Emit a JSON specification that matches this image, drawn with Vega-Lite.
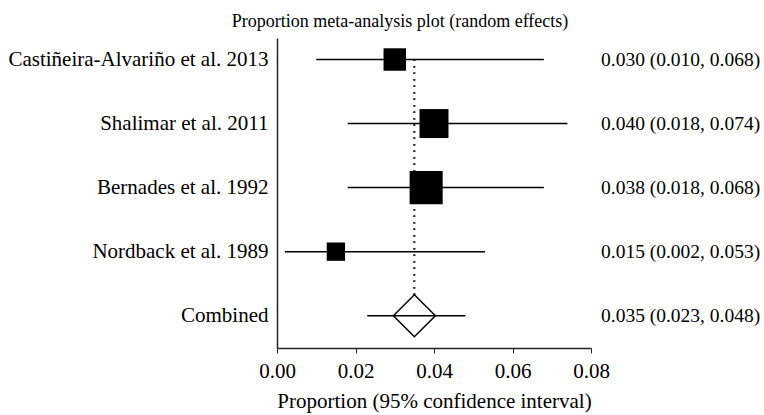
{
  "$schema": "https://vega.github.io/schema/vega-lite/v6.json",
  "width": 314,
  "height": 310,
  "autosize": {"type": "none"},
  "padding": {"left": 277, "top": 38, "right": 173, "bottom": 67},
  "background": "white",
  "config": {
    "font": "Liberation Serif",
    "view": {"stroke": null},
    "axis": {
      "labelFont": "Liberation Serif",
      "titleFont": "Liberation Serif",
      "labelFontSize": 21,
      "titleFontSize": 21,
      "labelColor": "black",
      "titleColor": "black",
      "titleFontWeight": "normal",
      "domainColor": "#222",
      "domainWidth": 1.5,
      "tickColor": "#222",
      "grid": false
    }
  },
  "title": {
    "text": "Proportion meta-analysis plot (random effects)",
    "font": "Liberation Serif",
    "fontSize": 18,
    "fontWeight": "normal",
    "color": "black",
    "anchor": "middle",
    "frame": "group",
    "baseline": "alphabetic",
    "dx": -34,
    "dy": 21,
    "offset": 14
  },
  "data": {
    "values": [
      {"study": "Castiñeira-Alvariño et al. 2013", "est": 0.030, "lo": 0.010, "hi": 0.068, "weight": 18, "kind": "study"},
      {"study": "Shalimar et al. 2011", "est": 0.040, "lo": 0.018, "hi": 0.074, "weight": 30, "kind": "study"},
      {"study": "Bernades et al. 1992", "est": 0.038, "lo": 0.018, "hi": 0.068, "weight": 39, "kind": "study"},
      {"study": "Nordback et al. 1989", "est": 0.015, "lo": 0.002, "hi": 0.053, "weight": 12, "kind": "study"},
      {"study": "Combined", "est": 0.035, "lo": 0.023, "hi": 0.048, "weight": null, "kind": "combined"}
    ]
  },
  "transform": [
    {"calculate": "format(datum.est, '.3f') + ' (' + format(datum.lo, '.3f') + ', ' + format(datum.hi, '.3f') + ')'", "as": "ci_label"}
  ],
  "layer": [
    {
      "mark": {"type": "rule", "strokeDash": [1.5, 5], "strokeWidth": 1.5, "color": "#333"},
      "encoding": {
        "x": {"datum": 0.035, "type": "quantitative", "scale": {"domain": [0, 0.08], "nice": false, "zero": false},
          "axis": {
            "values": [0, 0.005, 0.01, 0.015, 0.02, 0.025, 0.03, 0.035, 0.04, 0.045, 0.05, 0.055, 0.06, 0.065, 0.07, 0.075, 0.08],
            "labelExpr": "abs(datum.value * 50 - round(datum.value * 50)) < 1e-6 ? format(datum.value, '.2f') : ''",
            "labelOverlap": false,
            "labelFlush": false,
            "tickSize": 5,
            "labelPadding": 7,
            "title": "Proportion (95% confidence interval)",
            "titlePadding": 9
          }},
        "y": {"datum": "Castiñeira-Alvariño et al. 2013", "type": "nominal",
          "scale": {"type": "point", "padding": 0.42, "align": 0.4,
            "domain": ["Castiñeira-Alvariño et al. 2013", "Shalimar et al. 2011", "Bernades et al. 1992", "Nordback et al. 1989", "Combined"]},
          "axis": {"title": null, "ticks": false, "labelPadding": 9, "labelLimit": 400}},
        "y2": {"datum": "Combined"}
      }
    },
    {
      "transform": [{"filter": "datum.kind === 'study'"}],
      "mark": {"type": "point", "shape": "square", "filled": true, "color": "black", "opacity": 1},
      "encoding": {
        "x": {"field": "est", "type": "quantitative"},
        "y": {"field": "study", "type": "nominal", "sort": null},
        "size": {"field": "weight", "type": "quantitative", "scale": {"type": "linear", "domain": [0, 40], "range": [0, 1120]}, "legend": null}
      }
    },
    {
      "transform": [{"filter": "datum.kind === 'combined'"}],
      "mark": {"type": "point", "shape": "diamond", "filled": true, "fill": "white", "stroke": "black", "strokeWidth": 1.5, "size": 1764, "opacity": 1},
      "encoding": {
        "x": {"field": "est", "type": "quantitative"},
        "y": {"field": "study", "type": "nominal", "sort": null}
      }
    },
    {
      "mark": {"type": "rule", "color": "black", "strokeWidth": 1.5},
      "encoding": {
        "x": {"field": "lo", "type": "quantitative"},
        "x2": {"field": "hi"},
        "y": {"field": "study", "type": "nominal", "sort": null}
      }
    },
    {
      "mark": {"type": "text", "align": "left", "baseline": "middle", "dx": 10, "fontSize": 19.5, "font": "Liberation Serif", "color": "black"},
      "encoding": {
        "x": {"datum": 0.08, "type": "quantitative"},
        "y": {"field": "study", "type": "nominal", "sort": null},
        "text": {"field": "ci_label"}
      }
    }
  ]
}
